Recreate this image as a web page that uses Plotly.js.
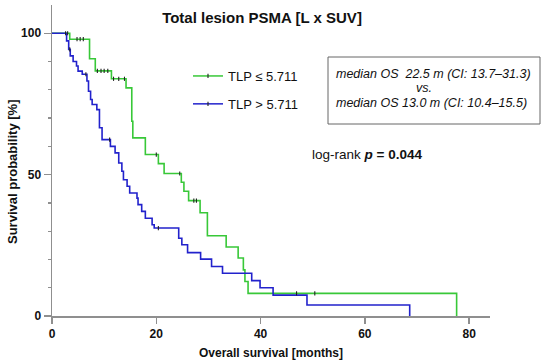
<!DOCTYPE html>
<html>
<head>
<meta charset="utf-8">
<script src="https://cdn.plot.ly/plotly-3.0.1.min.js"></script>
<style>html,body{margin:0;padding:0;background:#fff;}#chart{width:550px;height:362px;}</style>
</head>
<body>
<div id="chart"></div>
<script>
// ---- data ----
const groupNames = ["TLP \u2264 5.711", "TLP > 5.711"];

// TLP <= 5.711 (green): event times [months] and survival after each event [%]
const greenEventT = [3.4, 7.2, 8.3, 11.4, 14.2, 15.3, 15.5, 17.9, 20.4, 21.5, 24.8, 25.3, 26.2, 28.4, 29.8, 33.4, 35.7, 36.7, 37.0, 37.6, 77.6];
const greenEventS = [97.9, 91.0, 86.7, 83.9, 80.7, 68.9, 63.0, 57.1, 53.9, 50.4, 47.3, 44.1, 40.8, 36.5, 28.4, 24.4, 20.5, 16.3, 12.2, 8.0, 0];
const greenCensorT = [2.6, 3.0, 4.8, 5.4, 6.0, 8.7, 9.4, 10.0, 10.7, 11.8, 12.8, 13.9, 20.0, 24.5, 27.2, 27.7, 46.9, 50.4];

// TLP > 5.711 (blue)
const blueEventT = [2.8, 3.2, 3.5, 4.05, 4.7, 5.0, 5.8, 6.7, 7.0, 7.4, 7.7, 8.6, 9.1, 9.6, 11.2, 12.1, 12.8, 13.4, 13.7, 14.4, 14.9, 16.3, 16.5, 17.2, 17.9, 19.2, 19.6, 24.3, 24.9, 26.0, 28.5, 30.6, 32.7, 38.3, 39.9, 42.4, 48.9, 68.6];
const blueEventS = [97.3, 94.3, 92.0, 90.0, 88.4, 86.6, 85.5, 83.1, 79.5, 76.6, 74.8, 73.0, 66.6, 62.4, 60.0, 57.7, 54.1, 51.2, 48.2, 45.9, 43.5, 41.7, 39.4, 37.0, 34.6, 32.3, 31.1, 27.5, 25.2, 22.4, 20.1, 17.5, 15.1, 12.5, 10.0, 7.4, 3.9, 0];
const blueCensorT = [3.4, 6.5, 11.05, 20.4];

const xTicks = [0, 20, 40, 60, 80];
const yTicks = [0, 50, 100];

const chartTitle = "Total lesion PSMA [L x SUV]";
const xTitle = "Overall survival [months]";
const yTitle = "Survival probability [%]";
const boxLines = ["median OS\u00a0 22.5 m (CI: 13.7\u201331.3)", "vs.", "median OS 13.0 m (CI: 10.4\u201315.5)"];
const logRankText = "log-rank <b><i>p</i> = 0.044</b>";

// ---- helpers ----
function stepXY(ts, ss) {
  const x = [0], y = [100];
  ts.forEach((t, i) => { x.push(t); y.push(ss[i]); });
  return {x, y};
}
function survAt(t, ts, ss) {
  let s = 100;
  for (let i = 0; i < ts.length; i++) { if (ts[i] <= t) s = ss[i]; }
  return s;
}

const GREEN = "#38c838";
const BLUE = "#2222cc";
const FONT = "Liberation Sans, Arial, Helvetica, sans-serif";
const AX = "#8f8f8f";
const CENS = {symbol: "line-ns-open", size: 3, color: "#222", line: {width: 1.1, color: "#222"}};

const g = stepXY(greenEventT, greenEventS);
const b = stepXY(blueEventT, blueEventS);

const traces = [
  {x: g.x, y: g.y, mode: "lines", line: {shape: "hv", color: GREEN, width: 1.6}, showlegend: false, hoverinfo: "skip"},
  {x: b.x, y: b.y, mode: "lines", line: {shape: "hv", color: BLUE, width: 1.6}, showlegend: false, hoverinfo: "skip"},
  {x: greenCensorT, y: greenCensorT.map(t => survAt(t, greenEventT, greenEventS)), mode: "markers",
   marker: CENS, showlegend: false, cliponaxis: false},
  {x: blueCensorT, y: blueCensorT.map(t => survAt(t, blueEventT, blueEventS)), mode: "markers",
   marker: CENS, showlegend: false, cliponaxis: false},
  {x: [null], y: [null], name: groupNames[0], legendgroup: "a", mode: "lines+markers", line: {color: GREEN, width: 1.5}, marker: CENS},
  {x: [null], y: [null], name: groupNames[1], legendgroup: "b", mode: "lines+markers", line: {color: BLUE, width: 1.5}, marker: CENS}
];

const L = 52, T = 5, W = 438, H = 311;
const px = v => (v - L) / W;
const py = v => (T + H - v) / H;

const layout = {
  width: 550, height: 362,
  margin: {l: L, r: 550 - L - W, t: T, b: 362 - T - H},
  paper_bgcolor: "#fff", plot_bgcolor: "#fff",
  font: {family: FONT, size: 12, color: "#111"},
  title: {text: "<b>" + chartTitle + "</b>", font: {family: FONT, size: 15, color: "#111"},
          xref: "paper", x: px(262), xanchor: "center", yref: "container", y: 1 - 18 / 362, yanchor: "middle"},
  xaxis: {range: [0, 84], tickvals: xTicks, ticktext: xTicks.map(v => "<b>" + v + "</b>"),
          ticks: "outside", ticklen: 6, tickwidth: 1.5, tickcolor: AX,
          showline: true, linecolor: AX, linewidth: 1.5, showgrid: false, zeroline: false,
          tickfont: {family: FONT, size: 12, color: "#111"},
          title: {text: "<b>" + xTitle + "</b>", font: {family: FONT, size: 12, color: "#111"}, standoff: 8}},
  yaxis: {range: [0, 110], tickvals: yTicks, ticktext: yTicks.map(v => "<b>" + v + "</b>"),
          ticks: "outside", ticklen: 7, tickwidth: 1.5, tickcolor: AX,
          minor: {tickvals: [10, 20, 30, 40, 60, 70, 80, 90], ticks: "outside", ticklen: 3, tickwidth: 1.2, tickcolor: AX},
          showline: true, linecolor: AX, linewidth: 1.5, showgrid: false, zeroline: false,
          tickfont: {family: FONT, size: 12, color: "#111"}},
  legend: {x: px(188), y: py(61), xanchor: "left", yanchor: "top", bgcolor: "rgba(0,0,0,0)",
           font: {family: FONT, size: 13, color: "#111"}, traceorder: "grouped", tracegroupgap: 8},
  shapes: [
    {type: "rect", xref: "paper", yref: "paper", x0: px(328), x1: px(540), y0: py(124), y1: py(57),
     line: {color: "#666", width: 1}, fillcolor: "rgba(0,0,0,0)"}
  ],
  annotations: [
    {xref: "paper", yref: "paper", x: px(12), y: py(172), xanchor: "center", yanchor: "middle", showarrow: false,
     textangle: -90, text: "<b>" + yTitle + "</b>", font: {family: FONT, size: 13, color: "#111"}},
    {xref: "paper", yref: "paper", x: px(334), y: py(74), xanchor: "left", yanchor: "middle", showarrow: false,
     text: "<i>" + boxLines[0] + "</i>", font: {family: FONT, size: 12.5, color: "#111"}},
    {xref: "paper", yref: "paper", x: px(424), y: py(88), xanchor: "center", yanchor: "middle", showarrow: false,
     text: "<i>" + boxLines[1] + "</i>", font: {family: FONT, size: 12.5, color: "#111"}},
    {xref: "paper", yref: "paper", x: px(334), y: py(103), xanchor: "left", yanchor: "middle", showarrow: false,
     text: "<i>" + boxLines[2] + "</i>", font: {family: FONT, size: 12.5, color: "#111"}},
    {xref: "paper", yref: "paper", x: px(310), y: py(154), xanchor: "left", yanchor: "middle", showarrow: false,
     text: logRankText, font: {family: FONT, size: 13.5, color: "#111"}}
  ]
};

Plotly.newPlot("chart", traces, layout, {staticPlot: true, displayModeBar: false});
</script>
</body>
</html>
